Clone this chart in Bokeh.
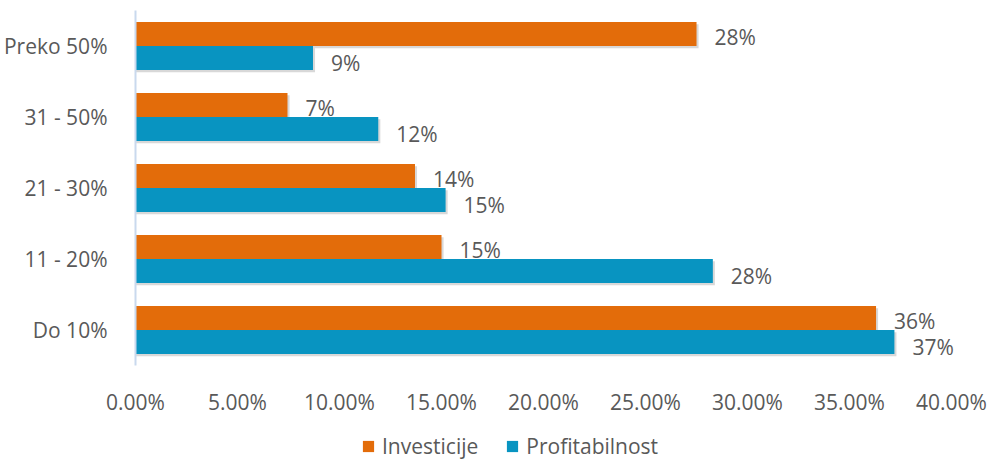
from bokeh.plotting import figure
from bokeh.layouts import column
from bokeh.models import (ColumnDataSource, FactorRange, Range1d, FixedTicker,
                          PrintfTickFormatter, Legend, LegendItem)
from bokeh.transform import dodge
from bokeh.core.properties import value
from bokeh.embed import file_html
from bokeh.resources import INLINE

# ---- data ----
categories = ["Do 10%", "11 - 20%", "21 - 30%", "31 - 50%", "Preko 50%"]
investicije = [36.3, 15.0, 13.7, 7.45, 27.5]
profitabilnost = [37.2, 28.3, 15.2, 11.9, 8.7]
series_names = ["Investicije", "Profitabilnost"]
x_ticks = [0, 5, 10, 15, 20, 25, 30, 35, 40]

# ---- styles ----
ORANGE = "#E36C0A"
BLUE = "#0894C1"
TXT = "#595959"
FONT = "Open Sans"
FS = "21px"
HALF = 0.169
BAR_H = 0.338
X_END = 41.42   # frame extends past 40% so outside labels are not clipped

def lbl(v):
    return f"{int(v + 0.5)}%"

src = ColumnDataSource(dict(
    cat=categories,
    inv=investicije,
    prof=profitabilnost,
    inv_lbl=[lbl(v) for v in investicije],
    prof_lbl=[lbl(v) for v in profitabilnost],
    inv_sh=[v + 0.1 for v in investicije],
    prof_sh=[v + 0.1 for v in profitabilnost],
))

p = figure(width=988, height=425, y_range=FactorRange(factors=categories),
           x_range=Range1d(0, X_END), output_backend="svg", toolbar_location=None,
           min_border_left=131, min_border_right=8, min_border_top=10,
           min_border_bottom=60)
p.outline_line_color = None
p.xgrid.visible = False
p.ygrid.visible = False

# shadows
p.hbar(y=dodge("cat", HALF - 0.03, range=p.y_range), left=0, right="inv_sh",
       height=BAR_H, source=src, fill_color="#7f7f7f", fill_alpha=0.3, line_color=None)
p.hbar(y=dodge("cat", -HALF - 0.03, range=p.y_range), left=0, right="prof_sh",
       height=BAR_H, source=src, fill_color="#7f7f7f", fill_alpha=0.3, line_color=None)

p.hbar(y=dodge("cat", HALF, range=p.y_range), left=0, right="inv",
       height=BAR_H, source=src, fill_color=ORANGE, line_color=None)
p.hbar(y=dodge("cat", -HALF, range=p.y_range), left=0, right="prof",
       height=BAR_H, source=src, fill_color=BLUE, line_color=None)

p.text(x="inv", y=dodge("cat", HALF, range=p.y_range), text="inv_lbl", source=src,
       x_offset=18, y_offset=3, text_baseline="middle", text_align="left",
       text_font=value(FONT), text_font_size=FS, text_color=TXT)
p.text(x="prof", y=dodge("cat", -HALF, range=p.y_range), text="prof_lbl", source=src,
       x_offset=18, y_offset=5, text_baseline="middle", text_align="left",
       text_font=value(FONT), text_font_size=FS, text_color=TXT)

# axes
p.xaxis.ticker = FixedTicker(ticks=x_ticks)
p.xaxis.formatter = PrintfTickFormatter(format="%.2f%%")
p.xaxis.axis_line_color = None
p.xaxis.major_tick_line_color = None
p.xaxis.minor_tick_line_color = None
p.xaxis.major_label_standoff = 16
p.xaxis.major_label_text_font = FONT
p.xaxis.major_label_text_font_size = FS
p.xaxis.major_label_text_color = TXT

p.yaxis.axis_line_color = "#C9D9EE"
p.yaxis.axis_line_width = 2
p.yaxis.major_tick_line_color = None
p.yaxis.minor_tick_line_color = None
p.yaxis.major_label_standoff = 22
p.yaxis.major_label_text_font = FONT
p.yaxis.major_label_text_font_size = FS
p.yaxis.major_label_text_color = TXT

# ---- legend strip (separate figure below the chart) ----
p2 = figure(width=988, height=35, x_range=Range1d(0, 1), y_range=Range1d(0, 1),
            output_backend="svg", toolbar_location=None,
            x_axis_location=None, y_axis_location=None,
            min_border_left=0, min_border_right=0, min_border_top=0,
            min_border_bottom=0)
p2.grid.visible = False
p2.outline_line_color = None
# zero-size swatch renderers outside the view, used only for legend glyphs
l1 = p2.hbar(y=[5], left=[0], right=[0], height=0.1, fill_color=ORANGE, line_color=None)
l2 = p2.hbar(y=[5], left=[0], right=[0], height=0.1, fill_color=BLUE, line_color=None)

legend = Legend(items=[LegendItem(label=series_names[0], renderers=[l1]),
                       LegendItem(label=series_names[1], renderers=[l2])],
                orientation="horizontal", location=(226, 0),
                glyph_width=14, glyph_height=14, label_standoff=7, spacing=27,
                padding=0, margin=0, border_line_color=None,
                background_fill_alpha=0,
                label_text_font=FONT, label_text_font_size=FS,
                label_text_color=TXT)
p2.add_layout(legend)

layout = column(p, p2, spacing=0)
open("out.html", "w").write(file_html(layout, INLINE))
